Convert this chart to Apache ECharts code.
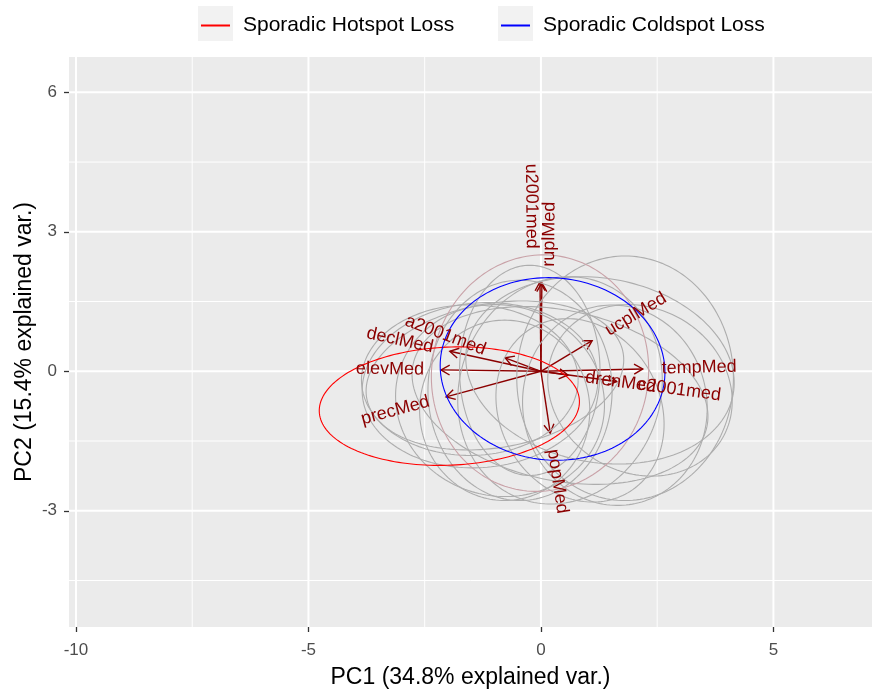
<!DOCTYPE html>
<html><head><meta charset="utf-8">
<script src="https://cdn.jsdelivr.net/npm/echarts@6/dist/echarts.min.js"></script>
<style>html,body{margin:0;padding:0;background:#fff}#c{width:872px;height:695px}</style>
</head><body><div id="c"></div>
<script>
// ---- axis ticks / grid ----
const xTicks = [-10, -5, 0, 5];
const yTicks = [-3, 0, 3, 6];
const xMinorGrid = [-7.5, -2.5, 2.5];
const yMinorGrid = [-4.5, -1.5, 1.5, 4.5];

// ---- variable loadings (arrow tips, PC1 / PC2) ----
const varNames = ['u2001med', 'ruplMed', 'a2001med', 'declMed', 'elevMed', 'precMed', 'popMed', 'ucplMed', 'tempMed', 'drenMed', 'c2001med'];
const loadPC1  = [-0.02, 0.02, -0.77, -1.96, -2.15, -2.04, 0.20, 1.10, 2.19, 0.58, 1.63];
const loadPC2  = [ 1.92, 1.90,  0.29,  0.43,  0.03, -0.55, -1.33, 0.66, 0.05, -0.08, -0.22];

// ---- group ellipses (centre, semi-axes, rotation in degrees) ----
const ellGroup = ['gray','gray','gray','gray','gray','gray','gray','gray','gray','gray','gray','gray','gray','gray','rosy','hot','cold'];
const ellCX    = [-1.31,-1.53,-0.99,-0.88,-0.45, 0.41, 1.81, 1.59, 1.27, 0.84,-0.24, 2.13, 0.41,-0.78,-0.02,-1.97, 0.25];
const ellCY    = [-0.30,-0.19,-0.09,-0.63,-0.41,-0.41,-0.15,-0.73, 0.02,-0.84, 0.02,-0.41,-0.52,-0.84,-0.04,-0.75, 0.05];
const ellA     = [ 2.54, 2.33, 2.80, 2.26, 1.98, 2.16, 2.33, 1.98, 2.91, 1.72, 1.51, 2.05, 3.23, 1.83, 2.55, 2.80, 2.42];
const ellB     = [ 1.77, 1.62, 1.55, 2.05, 2.37, 2.48, 2.63, 2.16, 1.98, 2.05, 2.26, 1.77, 1.83, 1.94, 2.33, 1.27, 1.96];
const ellAngle = [    5,    0,   10,  -15,    0,  -20,    0,   10,  -10,   30,    0,  -30,  -12,    0,   80,  2.5,   -5];

const hotName = 'Sporadic Hotspot Loss';
const coldName = 'Sporadic Coldspot Loss';

// ---- styling constants ----
const FONT = '"Liberation Sans", Arial, Helvetica, sans-serif';
const ARROW_COL = '#8B0000';
const groupColor = {gray: '#ADADAD', rosy: '#C9A2A8', hot: '#FF0000', cold: '#0000FF'};
const labelNudge = {u2001med: [-8, -12], ruplMed: [7, 0]};

const X_MIN = -10.15, X_MAX = 7.12, Y_MIN = -5.50, Y_MAX = 6.76;

const measureCtx = document.createElement('canvas').getContext('2d');
measureCtx.font = '18px ' + FONT;

function ellipseRender(params, api) {
  const cx = api.value(0), cy = api.value(1), a = api.value(2), b = api.value(3);
  const ang = api.value(4) * Math.PI / 180;
  const pts = [];
  for (let i = 0; i <= 180; i++) {
    const t = i / 180 * 2 * Math.PI;
    const ex = a * Math.cos(t), ey = b * Math.sin(t);
    pts.push(api.coord([cx + ex * Math.cos(ang) - ey * Math.sin(ang), cy + ex * Math.sin(ang) + ey * Math.cos(ang)]));
  }
  return {type: 'polyline', shape: {points: pts}, style: {stroke: api.visual('color'), lineWidth: 1.1, fill: null}};
}

function ellipseData(kind) {
  const out = [];
  ellGroup.forEach((g, i) => { if (g === kind) out.push([ellCX[i], ellCY[i], ellA[i], ellB[i], ellAngle[i]]); });
  return out;
}

function ellipseSeries(kind, name) {
  return {
    type: 'custom', name: name, coordinateSystem: 'cartesian2d', silent: true,
    itemStyle: {color: groupColor[kind]},
    encode: {x: 0, y: 1},
    renderItem: ellipseRender, data: ellipseData(kind), z: 3
  };
}

const gridData = [];
xTicks.forEach(v => gridData.push([v, 0, 1]));
xMinorGrid.forEach(v => gridData.push([v, 0, 0]));
yTicks.forEach(v => gridData.push([v, 1, 1]));
yMinorGrid.forEach(v => gridData.push([v, 1, 0]));

const arrowData = varNames.map((n, i) => [loadPC1[i], loadPC2[i], i]);

const option = {
  animation: false,
  backgroundColor: '#FFFFFF',
  grid: {left: 69, top: 57, width: 803, height: 570, show: true, backgroundColor: '#EBEBEB', borderWidth: 0, containLabel: false},
  xAxis: {
    type: 'value', min: X_MIN, max: X_MAX,
    axisLine: {show: false, onZero: false},
    splitLine: {show: false},
    axisTick: {show: true, customValues: xTicks, length: 5, lineStyle: {color: '#333333', width: 1.3}},
    axisLabel: {customValues: xTicks, fontSize: 17, color: '#4D4D4D', margin: 15, fontFamily: FONT},
    name: 'PC1 (34.8% explained var.)', nameLocation: 'middle', nameGap: 39, nameMoveOverlap: false,
    nameTextStyle: {fontSize: 23, color: '#000000', fontFamily: FONT}
  },
  yAxis: {
    type: 'value', min: Y_MIN, max: Y_MAX,
    axisLine: {show: false, onZero: false},
    splitLine: {show: false},
    axisTick: {show: true, customValues: yTicks, length: 5, lineStyle: {color: '#333333', width: 1.3}},
    axisLabel: {customValues: yTicks, fontSize: 17, color: '#4D4D4D', margin: 12, fontFamily: FONT},
    name: 'PC2 (15.4% explained var.)', nameLocation: 'middle', nameGap: 33, nameMoveOverlap: false,
    nameTextStyle: {fontSize: 23, color: '#000000', fontFamily: FONT}
  },
  legend: [
    {data: [{name: hotName, icon: 'rect', itemStyle: {color: groupColor.hot}}], left: 201, top: 15, padding: 0,
     itemWidth: 29, itemHeight: 2, selectedMode: false,
     textStyle: {fontSize: 21, color: '#000000', fontFamily: FONT, padding: [0, 0, 0, 8]}},
    {data: [{name: coldName, icon: 'rect', itemStyle: {color: groupColor.cold}}], left: 501, top: 15, padding: 0,
     itemWidth: 29, itemHeight: 2, selectedMode: false,
     textStyle: {fontSize: 21, color: '#000000', fontFamily: FONT, padding: [0, 0, 0, 8]}}
  ],
  graphic: [
    {type: 'rect', shape: {x: 198, y: 6, width: 35, height: 35}, style: {fill: '#F2F2F2'}, z: 0, silent: true},
    {type: 'rect', shape: {x: 498, y: 6, width: 35, height: 35}, style: {fill: '#F2F2F2'}, z: 0, silent: true}
  ],
  series: [
    {
      type: 'custom', coordinateSystem: 'cartesian2d', silent: true, z: 1,
      data: gridData,
      renderItem: function (params, api) {
        const v = api.value(0), horiz = api.value(1) === 1, major = api.value(2) === 1;
        const p1 = horiz ? api.coord([X_MIN, v]) : api.coord([v, Y_MIN]);
        const p2 = horiz ? api.coord([X_MAX, v]) : api.coord([v, Y_MAX]);
        return {type: 'line', shape: {x1: p1[0], y1: p1[1], x2: p2[0], y2: p2[1]},
                style: {stroke: '#FFFFFF', lineWidth: major ? 2 : 1}};
      }
    },
    {
      type: 'custom', coordinateSystem: 'cartesian2d', silent: true, z: 2,
      data: arrowData,
      renderItem: function (params, api) {
        const o = api.coord([0, 0]);
        const t = api.coord([api.value(0), api.value(1)]);
        const ang = Math.atan2(t[1] - o[1], t[0] - o[0]);
        const L = 10, h = Math.PI / 6;
        const a1 = [t[0] - L * Math.cos(ang - h), t[1] - L * Math.sin(ang - h)];
        const a2 = [t[0] - L * Math.cos(ang + h), t[1] - L * Math.sin(ang + h)];
        return {type: 'group', children: [
          {type: 'line', shape: {x1: o[0], y1: o[1], x2: t[0], y2: t[1]}, style: {stroke: ARROW_COL, lineWidth: 1.4}},
          {type: 'polyline', shape: {points: [a1, t, a2]}, style: {stroke: ARROW_COL, lineWidth: 1.4, fill: null}}
        ]};
      }
    },
    ellipseSeries('gray', null),
    ellipseSeries('rosy', null),
    ellipseSeries('hot', hotName),
    ellipseSeries('cold', coldName),
    {
      type: 'custom', coordinateSystem: 'cartesian2d', silent: true, z: 5,
      data: arrowData,
      renderItem: function (params, api) {
        const x = api.value(0), y = api.value(1), name = varNames[api.value(2)];
        const t = api.coord([x, y]);
        const theta = Math.atan(y / x);
        const w = measureCtx.measureText(name).width;
        const dx = Math.cos(theta), dy = -Math.sin(theta);
        const s = x > 0 ? 1 : -1;
        const nudge = labelNudge[name] || [0, 0];
        const px = t[0] + s * 0.25 * w * dx + nudge[0];
        const py = t[1] + s * 0.25 * w * dy + nudge[1];
        return {type: 'text', x: px, y: py, rotation: theta,
          style: {text: name, fill: ARROW_COL, fontSize: 18, fontFamily: FONT,
                  align: x > 0 ? 'left' : 'right', textAlign: x > 0 ? 'left' : 'right',
                  verticalAlign: 'middle', textVerticalAlign: 'middle'}};
      }
    }
  ]
};

const chart = echarts.init(document.getElementById('c'), null, {renderer: 'canvas'});
chart.setOption(option);
</script>
</body></html>
